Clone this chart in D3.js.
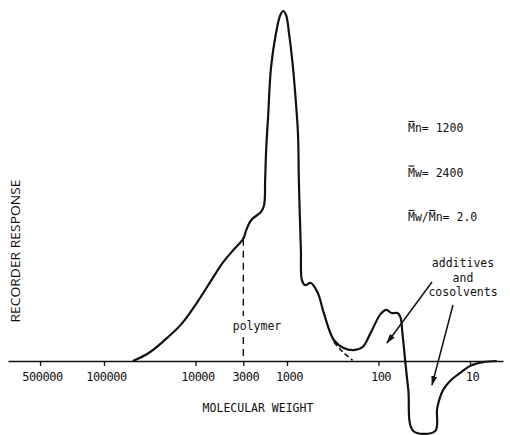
<!DOCTYPE html>
<html>
<head>
<meta charset="utf-8">
<script src="https://cdn.jsdelivr.net/npm/d3@7"></script>
<style>
  body { margin: 0; background: #fff; }
  svg text { fill: #111; }
</style>
</head>
<body>
<svg id="chart" width="510" height="435"></svg>
<script>
// GPC trace: molecular weight vs recorder response (peak = 100)
const molWeight = [48400, 32400, 22300, 14200, 9510, 6700, 4960, 3770, 3010, 2790, 2460, 1920,
  1778, 1733, 1690, 1610, 1493, 1318, 1192, 1105, 1025, 951, 861, 819, 759, 741, 705, 687,
  637, 548, 460, 396, 308, 240, 187, 149, 122, 95, 82, 72, 62, 57.7, 54.8, 50.9, 47.2,
  41.7, 24.0, 22.8, 19.7, 16.5, 12.8, 10, 7.2, 5.1];
const response = [0, 2.3, 5.7, 10.6, 16.9, 23.1, 28.3, 32, 34.9, 37.4, 40.3, 42.6,
  44.6, 51.7, 60.3, 69.7, 84, 93.7, 98.6, 100, 98.9, 93.7, 84, 77.4, 65.1, 50.9, 31.7, 23.1,
  21.7, 22.3, 19.4, 13.7, 6, 3.7, 3.1, 4, 8, 13.4, 14.6, 13.7, 13.7, 12.6, 8, -0.3, -8.3,
  -20, -20, -13.4, -8.3, -5.7, -3.4, -1.4, -0.3, 0];

// extrapolated polymer tail (dashed)
const tailWeight = [308, 246, 192];
const tailResponse = [5.4, 2.6, 0.2];

const tickValues = [500000, 100000, 10000, 3000, 1000, 100, 10];
const polymerCut = { mw: 3000, response: 34.9 };
const stats = [
  { label: 'Mn= 1200', bars: [0] },
  { label: 'Mw= 2400', bars: [0] },
  { label: 'Mw/Mn= 2.0', bars: [0, 3] }
];
const annotationLines = ['additives', 'and', 'cosolvents'];

const svg = d3.select('#chart');
const ink = '#111';
const mono = '"DejaVu Sans Mono", "Liberation Mono", monospace';

// log scale anchored on the printed ticks (10 -> 470px, 100000 -> 104px)
const base = d3.scaleLog().domain([10, 100000]).range([470, 104]);
const x = d3.scaleLog().domain([base.invert(503), base.invert(8)]).range([503, 8]);
const y = d3.scaleLinear().domain([-20, 100]).range([431, 11]);
const baseY = y(0);

// arrow head
svg.append('defs').append('marker')
  .attr('id', 'arr').attr('viewBox', '0 -3 10 6')
  .attr('refX', 9).attr('markerWidth', 10).attr('markerHeight', 6)
  .attr('markerUnits', 'userSpaceOnUse').attr('orient', 'auto')
  .append('path').attr('d', 'M0,-3L10,0L0,3Z').attr('fill', ink);

// x axis
const axis = d3.axisBottom(x)
  .tickValues(tickValues)
  .tickFormat(d3.format('d'))
  .tickSize(5).tickSizeOuter(0).tickPadding(6);

const ax = svg.append('g').attr('transform', `translate(0,${baseY})`).call(axis);
ax.select('.domain').attr('stroke', ink).attr('stroke-width', 1.6);
ax.selectAll('.tick line').attr('stroke', ink).attr('stroke-width', 1.3);
ax.selectAll('.tick text')
  .attr('font-family', mono).attr('font-size', 12).attr('letter-spacing', '-0.5px')
  .attr('dx', 2).attr('fill', ink);

svg.append('text')
  .attr('x', 258).attr('y', 412)
  .attr('text-anchor', 'middle')
  .attr('font-family', mono).attr('font-size', 11.5)
  .text('MOLECULAR WEIGHT');

svg.append('text')
  .attr('transform', 'translate(20,251) rotate(-90)')
  .attr('text-anchor', 'middle')
  .attr('font-family', '"Open Sans", "DejaVu Sans", sans-serif').attr('font-size', 13)
  .attr('textLength', 143).attr('lengthAdjust', 'spacingAndGlyphs')
  .text('RECORDER RESPONSE');

// trace
const pts = molWeight.map((m, i) => [x(m), y(response[i])]);
const line = d3.line().curve(d3.curveCatmullRom.alpha(0.5));

svg.append('path')
  .attr('d', line(pts))
  .attr('fill', 'none').attr('stroke', ink)
  .attr('stroke-width', 2.2).attr('stroke-linejoin', 'round');

svg.append('path')
  .attr('d', line(tailWeight.map((m, i) => [x(m), y(tailResponse[i])])))
  .attr('fill', 'none').attr('stroke', ink)
  .attr('stroke-width', 1.6).attr('stroke-dasharray', '5 3');

// polymer cut-off, dashed, broken by its label
const cx = x(polymerCut.mw);
[[y(polymerCut.response), 316], [337, baseY]].forEach(([a, b]) => {
  svg.append('line')
    .attr('x1', cx).attr('x2', cx).attr('y1', a).attr('y2', b)
    .attr('stroke', ink).attr('stroke-width', 1.4).attr('stroke-dasharray', '7 5');
});
svg.append('text')
  .attr('x', 257).attr('y', 330)
  .attr('text-anchor', 'middle')
  .attr('font-family', mono).attr('font-size', 11.5)
  .text('polymer');

// averages, with overbars on M
stats.forEach((s, i) => {
  const t = svg.append('text')
    .attr('x', 408).attr('y', 132 + i * 44.5)
    .attr('font-family', mono).attr('font-size', 11.5)
    .text(s.label);
  const node = t.node();
  s.bars.forEach(ci => {
    const p0 = node.getStartPositionOfChar(ci);
    const p1 = node.getEndPositionOfChar(ci);
    svg.append('line')
      .attr('x1', p0.x + 0.5).attr('x2', p1.x - 0.5)
      .attr('y1', p0.y - 10.5).attr('y2', p0.y - 10.5)
      .attr('stroke', ink).attr('stroke-width', 1.1);
  });
});

// additives annotation
const ann = svg.append('text')
  .attr('font-family', mono).attr('font-size', 11.5).attr('text-anchor', 'middle');
annotationLines.forEach((s, i) => {
  ann.append('tspan').attr('x', 463).attr('y', 267 + i * 14.5).text(s);
});

[[432, 282, 387, 343], [453, 305, 432, 385]].forEach(([x1, y1, x2, y2]) => {
  svg.append('line')
    .attr('x1', x1).attr('y1', y1).attr('x2', x2).attr('y2', y2)
    .attr('stroke', ink).attr('stroke-width', 1.5)
    .attr('marker-end', 'url(#arr)');
});
</script>
</body>
</html>
